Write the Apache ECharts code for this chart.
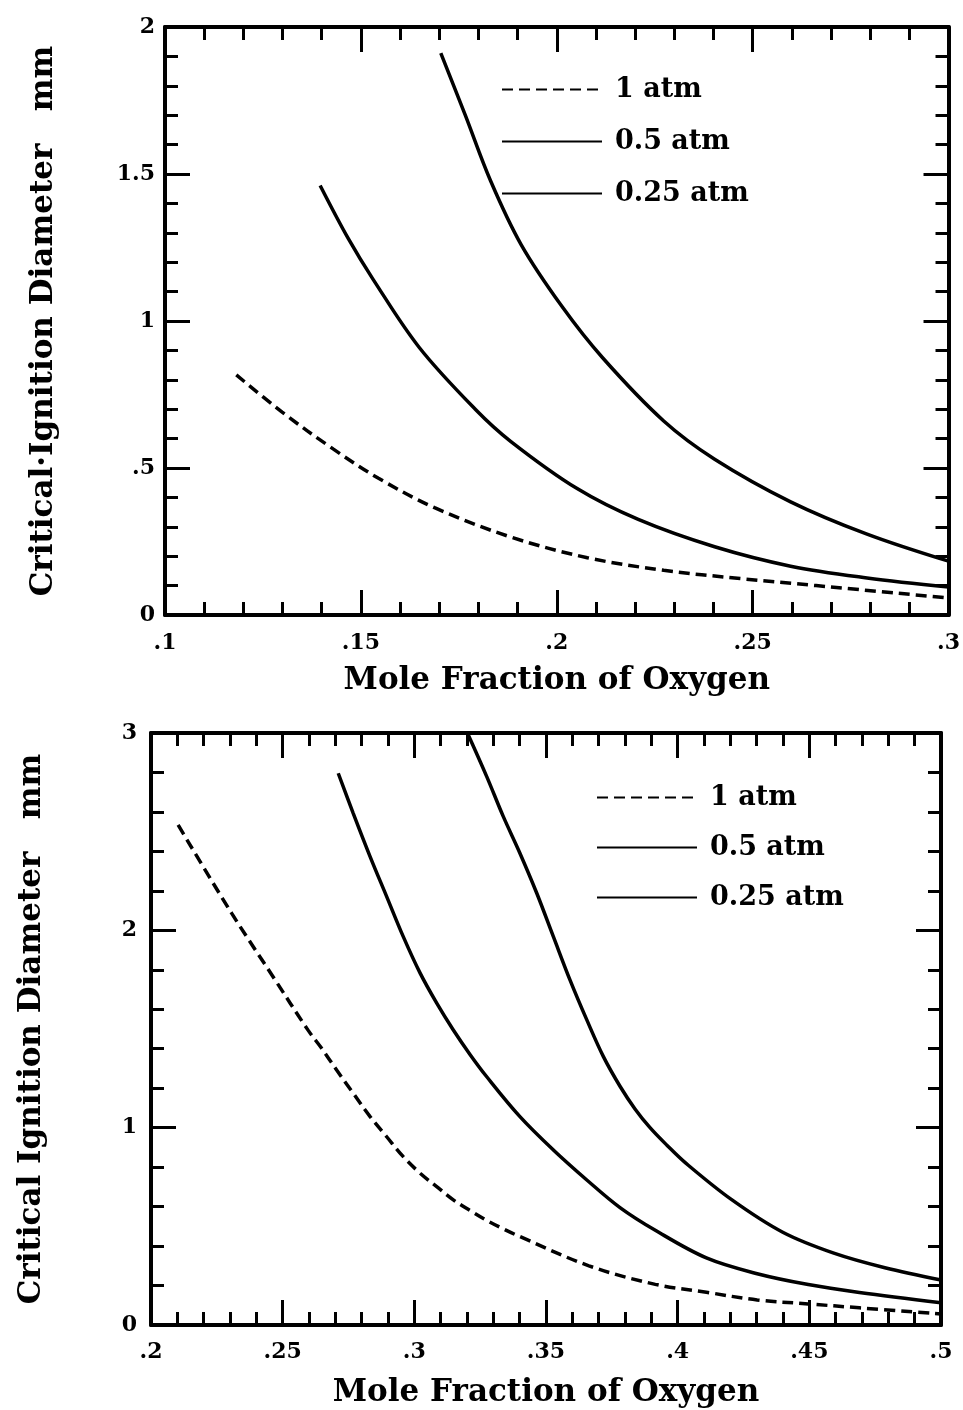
<!DOCTYPE html>
<html>
<head>
<meta charset="utf-8">
<script src="https://cdn.jsdelivr.net/npm/echarts@6/dist/echarts.min.js"></script>
<style>
html,body{margin:0;padding:0;background:#fff;}
#chart{width:963px;height:1410px;}
</style>
</head>
<body>
<div id="chart"></div>
<script>
// ---- DATA ----
const seriesNames = ['1 atm', '0.5 atm', '0.25 atm'];

// Top panel: x = mole fraction of oxygen, y = critical ignition diameter (mm)
const topX_1atm   = [0.1182, 0.1299, 0.1429, 0.1545, 0.1688, 0.1883, 0.2078, 0.2273, 0.2468, 0.2662, 0.3000];
const topY_1atm   = [0.817, 0.690, 0.565, 0.465, 0.365, 0.265, 0.195, 0.152, 0.124, 0.100, 0.058];
const topX_05atm  = [0.1396, 0.1468, 0.1532, 0.1649, 0.1792, 0.1883, 0.2052, 0.2208, 0.2403, 0.2597, 0.2792, 0.3000];
const topY_05atm  = [1.461, 1.280, 1.140, 0.910, 0.700, 0.590, 0.430, 0.325, 0.232, 0.166, 0.126, 0.095];
const topX_025atm = [0.1704, 0.1766, 0.1831, 0.1909, 0.2013, 0.2117, 0.2273, 0.2403, 0.2597, 0.2792, 0.3000];
const topY_025atm = [1.911, 1.702, 1.477, 1.260, 1.050, 0.875, 0.660, 0.530, 0.385, 0.275, 0.183];

// Bottom panel
const botX_1atm   = [0.2103, 0.2306, 0.2461, 0.2597, 0.2648, 0.2705, 0.2768, 0.2832, 0.2895, 0.2958, 0.3022, 0.3085, 0.3148, 0.3212, 0.3275, 0.3338, 0.3401, 0.3663, 0.3915, 0.4109, 0.4302, 0.4496, 0.4690, 0.5000];
const botY_1atm   = [2.534, 2.087, 1.770, 1.493, 1.402, 1.292, 1.174, 1.056, 0.954, 0.853, 0.769, 0.701, 0.634, 0.580, 0.530, 0.487, 0.448, 0.300, 0.206, 0.166, 0.127, 0.107, 0.087, 0.056];
const botX_05atm  = [0.2711, 0.2768, 0.2832, 0.2895, 0.2958, 0.3022, 0.3085, 0.3148, 0.3212, 0.3275, 0.3401, 0.3528, 0.3655, 0.3781, 0.3915, 0.4109, 0.4302, 0.4496, 0.4690, 0.5000];
const botY_05atm  = [2.796, 2.593, 2.374, 2.171, 1.968, 1.783, 1.631, 1.495, 1.370, 1.258, 1.056, 0.887, 0.735, 0.595, 0.480, 0.340, 0.260, 0.205, 0.165, 0.113];
const botX_025atm = [0.3205, 0.3275, 0.3338, 0.3401, 0.3465, 0.3528, 0.3591, 0.3655, 0.3718, 0.3781, 0.3838, 0.3895, 0.3960, 0.4031, 0.4205, 0.4399, 0.4593, 0.4787, 0.5000];
const botY_025atm = [2.990, 2.779, 2.576, 2.391, 2.188, 1.968, 1.749, 1.546, 1.360, 1.210, 1.095, 1.000, 0.910, 0.820, 0.635, 0.470, 0.364, 0.290, 0.228];

const xTitle = 'Mole Fraction of Oxygen';
const yTitleTop = 'Critical\u00B7Ignition Diameter   mm';
const yTitleBot = 'Critical Ignition Diameter   mm';

// ---- helpers ----
const zip = (xs, ys) => xs.map((x, i) => [x, ys[i]]);
const FONT = 'DejaVu Serif';
const fmt = v => { const s = String(+(+v).toFixed(3)); return s.replace(/^0\./, '.'); };

function axisBase(extra) {
  return Object.assign({
    type: 'value',
    splitLine: { show: false },
    axisLine: { show: true, onZero: false, lineStyle: { color: '#000', width: 4 } },
    axisTick: { show: true, inside: true, length: 25, lineStyle: { color: '#000', width: 3 } },
    minorTick: { show: true, splitNumber: 5, length: 13, lineStyle: { color: '#000', width: 3 } },
    axisLabel: { show: false }
  }, extra);
}
const labelStyle = { show: true, color: '#000', fontFamily: FONT, fontWeight: 'bold', fontSize: 22, formatter: fmt };
const nameStyle = { color: '#000', fontFamily: FONT, fontWeight: 'bold', fontSize: 31 };

function line(name, data, xi, yi, dashed) {
  return {
    type: 'line', name, data, xAxisIndex: xi, yAxisIndex: yi,
    symbol: 'none', smooth: 0.35, silent: true,
    lineStyle: { color: '#000', width: 3.5, type: dashed ? [11, 6] : 'solid' },
    itemStyle: { color: '#000' }
  };
}
const legendText = { color: '#000', fontFamily: FONT, fontWeight: 'bold', fontSize: 27, lineHeight: 24, padding: [0, 0, 0, 8] };

const chart = echarts.init(document.getElementById('chart'), null, { renderer: 'canvas' });
chart.setOption({
  backgroundColor: '#fff',
  animation: false,
  grid: [
    { left: 165, top: 27, width: 787, height: 588 },
    { left: 151, top: 733, width: 790, height: 592 }
  ],
  xAxis: [
    axisBase({ gridIndex: 0, min: 0.1, max: 0.3, interval: 0.05, position: 'bottom',
      axisLabel: Object.assign({}, labelStyle, { margin: 17 }),
      name: xTitle, nameLocation: 'middle', nameGap: 50, nameTextStyle: nameStyle }),
    axisBase({ gridIndex: 0, min: 0.1, max: 0.3, interval: 0.05, position: 'top' }),
    axisBase({ gridIndex: 1, min: 0.2, max: 0.5, interval: 0.05, position: 'bottom',
      axisLabel: Object.assign({}, labelStyle, { margin: 16 }),
      name: xTitle, nameLocation: 'middle', nameGap: 52, nameTextStyle: nameStyle }),
    axisBase({ gridIndex: 1, min: 0.2, max: 0.5, interval: 0.05, position: 'top' })
  ],
  yAxis: [
    axisBase({ gridIndex: 0, min: 0, max: 2, interval: 0.5, position: 'left',
      axisLabel: Object.assign({}, labelStyle, { margin: 10 }),
      name: yTitleTop, nameLocation: 'middle', nameRotate: 90, nameGap: 106, nameTextStyle: nameStyle }),
    axisBase({ gridIndex: 0, min: 0, max: 2, interval: 0.5, position: 'right' }),
    axisBase({ gridIndex: 1, min: 0, max: 3, interval: 1, position: 'left',
      axisLabel: Object.assign({}, labelStyle, { margin: 14 }),
      name: yTitleBot, nameLocation: 'middle', nameRotate: 90, nameGap: 104, nameTextStyle: nameStyle }),
    axisBase({ gridIndex: 1, min: 0, max: 3, interval: 1, position: 'right' })
  ],
  legend: [
    { orient: 'vertical', left: 496, top: 71, itemWidth: 100, itemHeight: 24, itemGap: 25,
      data: seriesNames, selectedMode: false,
      itemStyle: { opacity: 0 },
      textStyle: legendText },
    { orient: 'vertical', left: 591, top: 779, itemWidth: 100, itemHeight: 24, itemGap: 23,
      data: seriesNames, selectedMode: false,
      itemStyle: { opacity: 0 },
      textStyle: legendText }
  ],
  series: [
    line(seriesNames[0], zip(topX_1atm, topY_1atm), 0, 0, true),
    line(seriesNames[1], zip(topX_05atm, topY_05atm), 0, 0, false),
    line(seriesNames[2], zip(topX_025atm, topY_025atm), 0, 0, false),
    line(seriesNames[0], zip(botX_1atm, botY_1atm), 2, 2, true),
    line(seriesNames[1], zip(botX_05atm, botY_05atm), 2, 2, false),
    line(seriesNames[2], zip(botX_025atm, botY_025atm), 2, 2, false)
  ]
});
</script>
</body>
</html>
